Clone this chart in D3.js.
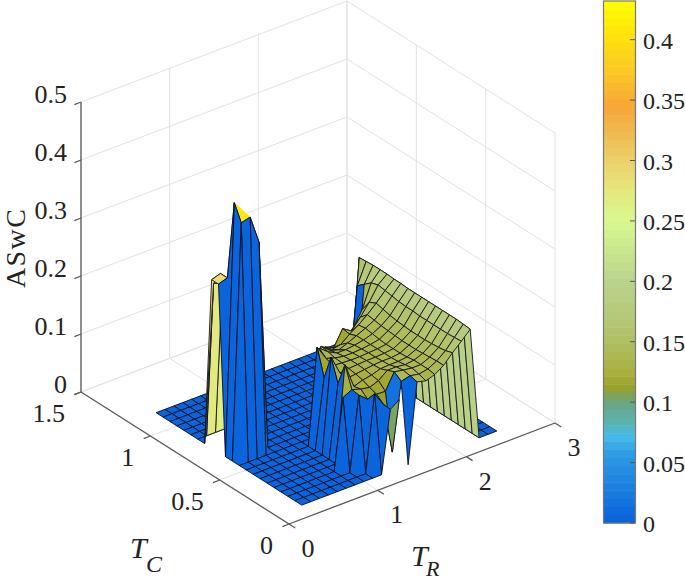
<!DOCTYPE html>
<html><head><meta charset="utf-8">
<script src="https://cdnjs.cloudflare.com/ajax/libs/d3/7.8.5/d3.min.js"></script>
<style>html,body{margin:0;padding:0;background:#fff}svg{display:block}text{font-family:"Liberation Serif",serif;fill:#222}</style>
</head><body><svg id="c" width="685" height="582"></svg>
<script>
const trValues=[0.3,0.4,0.5,0.6,0.7,0.8,0.9,1.0,1.1,1.2,1.3,1.4,1.5,1.6,1.7,1.8,1.9,2.0,2.1,2.2,2.3,2.4,2.5];
const tcValues=[0.1,0.15,0.2,0.25,0.3,0.35,0.4,0.45,0.5,0.55,0.6,0.65,0.7,0.75,0.8,0.85,0.9,0.95,1.0,1.05,1.1,1.15];
const aswc=[
[0,0,0,0,0,0,0,0,0,0,.107,.118,0,.137,.133,.138,.148,.164,.178,.193,0,0,0],
[0,0,0,0,0,0,0,0,0,.132,.108,.02,.136,.14,.137,.14,.148,.16,.177,.194,0,0,0],
[0,0,0,0,0,0,0,0,.128,.115,.118,.117,.145,.142,.14,.14,.147,.158,.176,.195,0,0,0],
[0,0,0,0,0,0,0,.122,.13,.125,.122,.128,.14,.14,.138,.14,.146,.157,.176,.195,0,0,0],
[0,0,0,0,0,0,0,0,.165,.122,.127,.13,.135,.136,.136,.138,.145,.156,.176,.195,0,0,0],
[0,0,0,0,0,0,0,0,.125,.128,.13,.132,.134,.135,.135,.137,.145,.156,.176,.195,0,0,0],
[0,0,0,0,0,0,0,0,.163,.13,.132,.133,.134,.134,.135,.137,.145,.156,.176,.195,0,0,0],
[0,0,0,0,0,0,0,0,.12,.135,.134,.133,.133,.134,.135,.137,.146,.157,.177,.195,0,0,0],
[0,0,0,0,0,0,0,0,.165,.14,.135,.132,.132,.133,.135,.138,.147,.158,.177,.195,0,0,0],
[0,0,0,0,0,0,0,0,0,.15,.138,.13,.13,.132,.135,.14,.148,.16,.178,.195,0,0,0],
[0,.405,.409,.36,0,0,0,0,0,0,.14,.127,.122,.128,.135,.142,.15,.163,.18,.196,0,0,0],
[0,.432,0,0,0,0,0,0,0,0,0,.125,.115,.118,.13,.14,.152,.166,.182,.196,0,0,0],
[.29,.295,0,0,0,0,0,0,0,0,0,0,.112,.105,.132,.122,.14,.16,.184,.197,0,0,0],
[.29,.295,0,0,0,0,0,0,0,0,0,0,0,0,0,.103,.115,.14,.18,.197,0,0,0],
[0,.27,.265,0,0,0,0,0,0,0,0,0,0,0,0,0,0,0,.17,.197,0,0,0],
[0,0,0,0,0,0,0,0,0,0,0,0,0,0,0,0,0,0,.16,.196,0,0,0],
[0,0,0,0,0,0,0,0,0,0,0,0,0,0,0,0,0,0,0,.195,0,0,0],
[0,0,0,0,0,0,0,0,0,0,0,0,0,0,0,0,0,0,0,0,0,0,0],
[0,0,0,0,0,0,0,0,0,0,0,0,0,0,0,0,0,0,0,0,0,0,0],
[0,0,0,0,0,0,0,0,0,0,0,0,0,0,0,0,0,0,0,0,0,0,0],
[0,0,0,0,0,0,0,0,0,0,0,0,0,0,0,0,0,0,0,0,0,0,0],
[0,0,0,0,0,0,0,0,0,0,0,0,0,0,0,0,0,0,0,0,0,0,0]];
const openCells=[[0,11]];
const foldedCells=[[10,1]];
const trTicks=[0,1,2,3], tcTicks=[0,0.5,1,1.5], zTicks=[0,0.1,0.2,0.3,0.4,0.5];
const barTicks=[0,0.05,0.1,0.15,0.2,0.25,0.3,0.35,0.4];
const barMax=0.432, levels=64;
const cmapStops=[0,.03,.055,.072,.085,.1,.113,.125,.15,.175,.2,.225,.25,.275,.3,.325,.345,.37,.4,.432];
const cmapColors=["#0860dc","#1c80e0","#2b98e3","#45bbe8","#5cb3ab","#6aa584","#9ba125","#a9b040","#b0bf64","#b5ca7c","#b9d38c","#c8e68e","#d8f88e","#e4e87e","#ecd06a","#f0b84e","#f6a536","#fbc428","#fde010","#ffff00"];

const svg=d3.select("#c");
const ox=289, oy=524;
const trX=d3.scaleLinear([0,3],[0,266]), trY=d3.scaleLinear([0,3],[0,-101]);
const tcX=d3.scaleLinear([0,1.5],[0,-208]), tcY=d3.scaleLinear([0,1.5],[0,-132]);
const zY=d3.scaleLinear([0,0.5],[0,-290]);
const P=(tr,tc,z)=>[ox+trX(tr)+tcX(tc), oy+trY(tr)+tcY(tc)+zY(z)];
const cont=d3.scaleLinear(cmapStops,cmapColors).interpolate(d3.interpolateRgb);
const quant=v=>cont((Math.min(levels-1,Math.floor(v/barMax*levels))+.5)/levels*barMax);

const grid=svg.append("g").attr("stroke","#e2e2e2").attr("stroke-width",1).attr("fill","none");
const seg=(g,a,b)=>g.append("line").attr("x1",a[0]).attr("y1",a[1]).attr("x2",b[0]).attr("y2",b[1]);
zTicks.forEach(z=>{seg(grid,P(0,1.5,z),P(3,1.5,z));seg(grid,P(3,1.5,z),P(3,0,z));});
trTicks.forEach(t=>{seg(grid,P(t,0,0),P(t,1.5,0));seg(grid,P(t,1.5,0),P(t,1.5,0.5));});
tcTicks.forEach(t=>{seg(grid,P(0,t,0),P(3,t,0));seg(grid,P(3,t,0),P(3,t,0.5));});

const ax=svg.append("g").attr("stroke","#5a5a5a").attr("stroke-width",1.3).attr("fill","none");
seg(ax,P(0,0,0),P(3,0,0));seg(ax,P(0,0,0),P(0,1.5,0));seg(ax,P(0,1.5,0),P(0,1.5,.5));
trTicks.forEach(t=>seg(ax,P(t,0,0),P(t,-0.045,0)));
tcTicks.forEach(t=>seg(ax,P(0,t,0),P(-0.075,t,0)));
zTicks.forEach(z=>seg(ax,P(0,1.5,z),P(-0.075,1.5,z)));

const lab=svg.append("g").style("font-size","26px");
zTicks.forEach(z=>{const p=P(0,1.5,z);lab.append("text").attr("x",p[0]-14).attr("y",p[1]+1).attr("text-anchor","end").text(String(z));});
tcTicks.forEach(t=>{const p=P(0,t,0);lab.append("text").attr("x",p[0]-16).attr("y",p[1]+30).attr("text-anchor","end").text(String(t));});
trTicks.forEach(t=>{const p=P(t,0,0);lab.append("text").attr("x",p[0]+19).attr("y",p[1]+33).attr("text-anchor","middle").text(String(t));});

svg.append("text").attr("transform","translate(25,288) rotate(-90)").style("font-size","28px").style("letter-spacing","1.4px").text("ASwC");
const tl=(x,y,s,t)=>svg.append("text").attr("x",x).attr("y",y).style("font-size",s+"px").style("font-style","italic").text(t);
tl(130,558,30,"T");tl(146,572,24,"C");tl(411,566,30,"T");tl(426,576,22,"R");

// surface, back to front; a folded cell is filled as two triangles, then outlined
const surf=svg.append("g").attr("stroke-linejoin","round");
const has=(l,r,c)=>l.some(o=>o[0]===r&&o[1]===c);
const ptsStr=a=>a.map(p=>p.map(v=>v.toFixed(2)).join(",")).join(" ");
for(let r=tcValues.length-2;r>=0;r--){
  for(let c=trValues.length-2;c>=0;c--){
    if(has(openCells,r,c))continue;
    const q=[[c,r],[c+1,r],[c+1,r+1],[c,r+1]].map(([i,j])=>P(trValues[i],tcValues[j],aswc[j][i]));
    const col=quant(aswc[r][c]);
    const faces=has(foldedCells,r,c)?[[q[0],q[1],q[3]],[q[1],q[2],q[3]]]:[q];
    faces.forEach(t=>surf.append("polygon").attr("points",ptsStr(t)).attr("fill",col).attr("stroke",col).attr("stroke-width",0.3));
    surf.append("polygon").attr("points",ptsStr(q)).attr("fill","none").attr("stroke","#0a0a14").attr("stroke-width",0.85);
  }
}

const barY=d3.scaleLinear([0,barMax],[523,1]);
const bar=svg.append("g");
d3.range(levels).forEach(i=>{const a=i/levels*barMax,b=(i+1)/levels*barMax;
  bar.append("rect").attr("x",604).attr("width",31).attr("y",barY(b)).attr("height",barY(a)-barY(b)+.5).attr("fill",cont((a+b)/2));});
bar.append("rect").attr("x",603.5).attr("y",1).attr("width",32).attr("height",522).attr("fill","none").attr("stroke","#777").attr("stroke-width",1.2);
barTicks.forEach(v=>{bar.append("line").attr("x1",630).attr("x2",635).attr("y1",barY(v)).attr("y2",barY(v)).attr("stroke","#555");
  bar.append("text").attr("x",643).attr("y",barY(v)+9).style("font-size","24px").text(String(v));});
</script></body></html>
